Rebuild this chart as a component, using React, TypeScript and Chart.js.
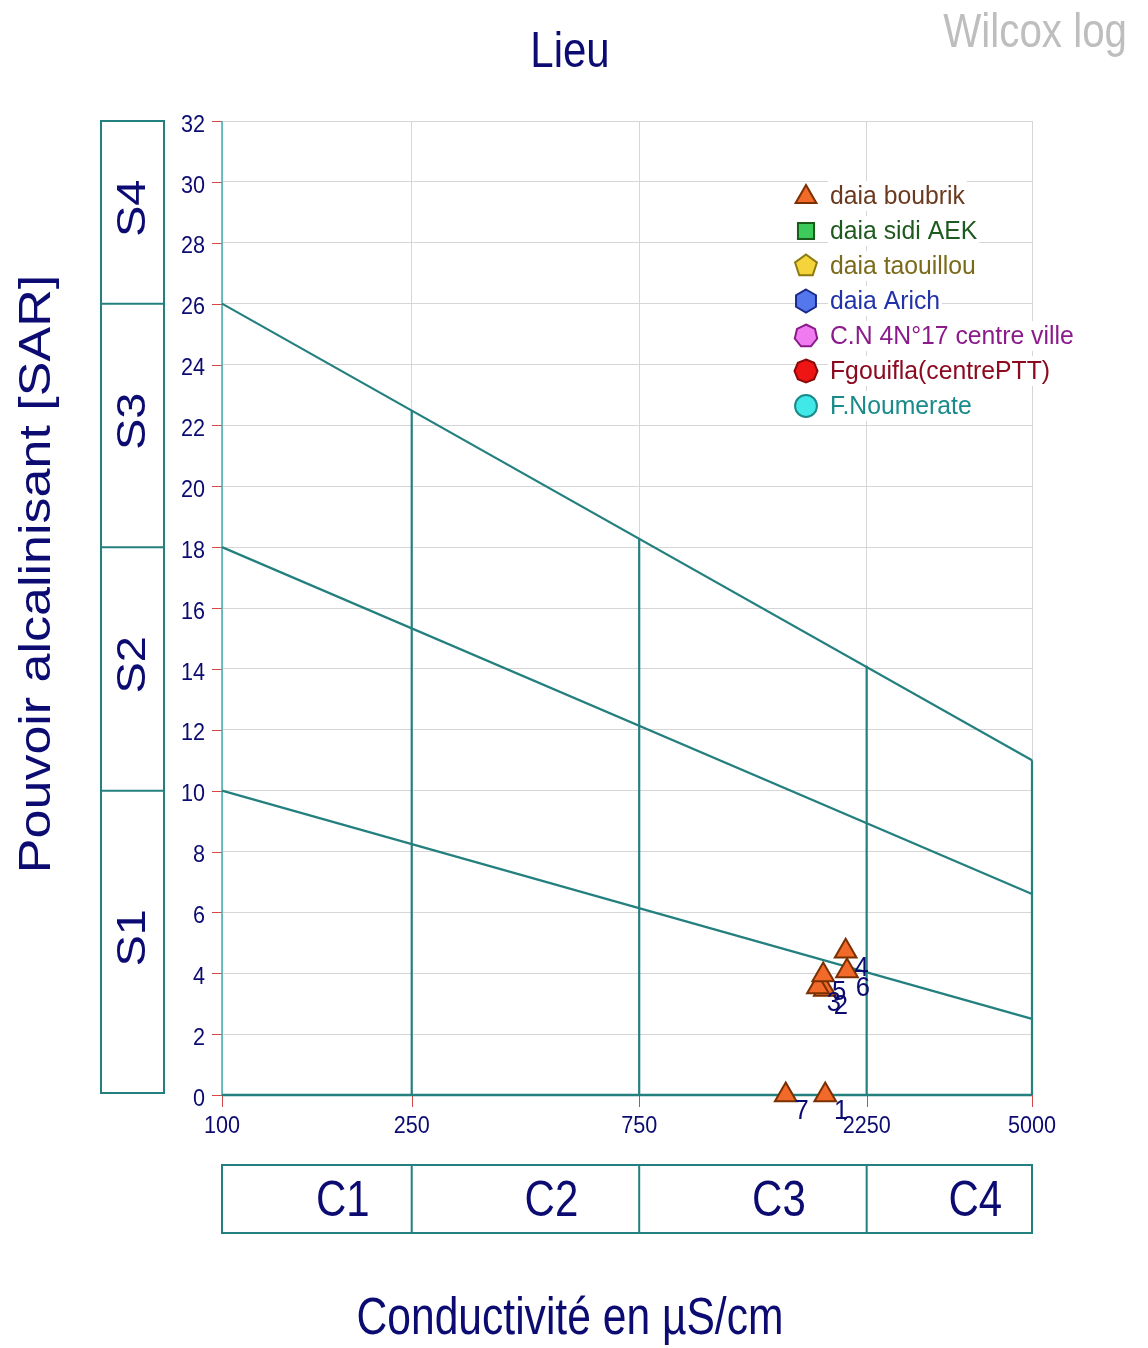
import React, { useEffect, useRef } from 'react';
import { Chart, registerables } from 'chart.js';

Chart.register(...registerables);

const FONT = "'Liberation Sans', Arial, sans-serif";
const NAVY = '#0B0B72';
const TEAL = '#23807F';

// ---- series (legend) ----
const seriesNames = ['daia boubrik', 'daia sidi AEK', 'daia taouillou', 'daia Arich', 'C.N 4N°17 centre ville', 'Fgouifla(centrePTT)', 'F.Noumerate'];
const seriesFill = ['#F26A2A', '#3CCB5A', '#F5D33A', '#5577EE', '#F07AF0', '#F01515', '#40E8E8'];
const seriesStroke = ['#7A3000', '#1A5A1A', '#8A7A10', '#1A2A8A', '#8A1A8A', '#8A0A0A', '#1A8A8A'];
const seriesText = ['#6B3A1E', '#1E5A1E', '#7A6A1A', '#2233AA', '#8B1A8B', '#8B0A20', '#1A8A8A'];
const seriesSides = [3, 4, 5, 6, 7, 8, 0];

// ---- samples (daia boubrik) ----
const sampleIds = ['1', '2', '3', '4', '5', '6', '7'];
const sampleCond = [1842, 1838, 1778, 2033, 1824, 2046, 1522];
const sampleSar = [0, 3.47, 3.55, 4.72, 3.94, 4.07, 0];

// ---- axes ----
const xTicks = [100, 250, 750, 2250, 5000];
const yTicks = [0, 2, 4, 6, 8, 10, 12, 14, 16, 18, 20, 22, 24, 26, 28, 30, 32];

// ---- classes ----
const sLabels = ['S1', 'S2', 'S3', 'S4'];
const sBounds = [0, 10, 18, 26, 32];
const cLabels = ['C1', 'C2', 'C3', 'C4'];
const cBounds = [100, 250, 750, 2250, 5000];

// ---- boundary lines ----
const lineS1S2 = [{ x: 100, y: 10 }, { x: 5000, y: 2.5 }];
const lineS2S3 = [{ x: 100, y: 18 }, { x: 5000, y: 6.6 }];
const lineS3S4 = [{ x: 100, y: 26 }, { x: 5000, y: 11 }];
const vert250 = [{ x: 250, y: 0 }, { x: 250, y: 22.5 }];
const vert750 = [{ x: 750, y: 0 }, { x: 750, y: 18.3 }];
const vert2250 = [{ x: 2250, y: 0 }, { x: 2250, y: 14.1 }];
const vert5000 = [{ x: 5000, y: 0 }, { x: 5000, y: 11 }];

function drawText(ctx: CanvasRenderingContext2D, text: string, x: number, y: number, size: number, color: string, align: CanvasTextAlign, sx: number, rotate = false) {
  ctx.save();
  ctx.translate(x, y);
  if (rotate) {
    ctx.rotate(-Math.PI / 2);
    ctx.scale(1, sx);
  } else {
    ctx.scale(sx, 1);
  }
  ctx.font = `${size}px ${FONT}`;
  ctx.fillStyle = color;
  ctx.textAlign = align;
  ctx.textBaseline = 'middle';
  ctx.fillText(text, 0, 0);
  ctx.restore();
}

function drawMarker(ctx: CanvasRenderingContext2D, sides: number, cx: number, cy: number, r: number, fill: string, stroke: string) {
  ctx.save();
  ctx.beginPath();
  if (sides === 0) {
    ctx.arc(cx, cy, r * 0.95, 0, Math.PI * 2);
  } else if (sides === 4) {
    ctx.rect(cx - r * 0.7, cy - r * 0.7, r * 1.4, r * 1.4);
  } else {
    for (let i = 0; i < sides; i++) {
      const a = -Math.PI / 2 + (i * 2 * Math.PI) / sides;
      const px = cx + r * Math.cos(a);
      const py = cy + r * Math.sin(a);
      if (i === 0) ctx.moveTo(px, py);
      else ctx.lineTo(px, py);
    }
    ctx.closePath();
  }
  ctx.fillStyle = fill;
  ctx.fill();
  ctx.strokeStyle = stroke;
  ctx.lineWidth = 2;
  ctx.stroke();
  ctx.restore();
}

const wilcoxPlugin = {
  id: 'wilcox',
  beforeDatasetsDraw(chart: any) {
    const { ctx, chartArea, scales } = chart;
    const xs = scales.x;
    const ys = scales.y;
    ctx.save();
    // red tick marks
    ctx.strokeStyle = '#D04848';
    ctx.lineWidth = 1;
    ctx.beginPath();
    yTicks.forEach((v) => {
      const py = Math.round(ys.getPixelForValue(v)) + 0.5;
      ctx.moveTo(chartArea.left - 10, py);
      ctx.lineTo(chartArea.left, py);
    });
    xTicks.forEach((v) => {
      const px = Math.round(xs.getPixelForValue(v)) + 0.5;
      ctx.moveTo(px, chartArea.bottom);
      ctx.lineTo(px, chartArea.bottom + 12);
    });
    ctx.stroke();
    // left axis line
    ctx.strokeStyle = '#3AAFAF';
    ctx.lineWidth = 1.5;
    ctx.beginPath();
    ctx.moveTo(chartArea.left, chartArea.top);
    ctx.lineTo(chartArea.left, chartArea.bottom);
    ctx.stroke();
    // bottom axis line
    ctx.strokeStyle = TEAL;
    ctx.lineWidth = 2.5;
    ctx.beginPath();
    ctx.moveTo(chartArea.left, chartArea.bottom);
    ctx.lineTo(chartArea.right, chartArea.bottom);
    ctx.stroke();
    ctx.restore();
  },
  afterDraw(chart: any) {
    const { ctx, chartArea, scales } = chart;
    const xs = scales.x;
    const ys = scales.y;

    // titles
    drawText(ctx, 'Lieu', 570, 53, 50, NAVY, 'center', 0.84);
    drawText(ctx, 'Wilcox log', 1127, 34, 48, '#BEBEBE', 'right', 0.84);
    drawText(ctx, 'Conductivité en µS/cm', 570, 1320, 51, NAVY, 'center', 0.835);
    drawText(ctx, 'Pouvoir alcalinisant [SAR]', 38, 574, 52, NAVY, 'center', 0.85, true);

    // tick labels
    yTicks.forEach((v) => {
      drawText(ctx, String(v), chartArea.left - 17, ys.getPixelForValue(v) + 4, 24, NAVY, 'right', 0.9);
    });
    xTicks.forEach((v) => {
      drawText(ctx, String(v), xs.getPixelForValue(v), chartArea.bottom + 31, 24, NAVY, 'center', 0.9);
    });

    // S class box
    ctx.save();
    ctx.strokeStyle = TEAL;
    ctx.lineWidth = 2;
    const sLeft = 101;
    const sRight = 164;
    const sTop = ys.getPixelForValue(sBounds[sBounds.length - 1]);
    const sBottom = ys.getPixelForValue(sBounds[0]) - 2;
    ctx.strokeRect(sLeft, sTop, sRight - sLeft, sBottom - sTop);
    ctx.beginPath();
    for (let i = 1; i < sBounds.length - 1; i++) {
      const py = ys.getPixelForValue(sBounds[i]);
      ctx.moveTo(sLeft, py);
      ctx.lineTo(sRight, py);
    }
    ctx.stroke();
    ctx.restore();
    sLabels.forEach((lab, i) => {
      const py = (Math.min(ys.getPixelForValue(sBounds[i]), sBottom) + ys.getPixelForValue(sBounds[i + 1])) / 2 - 4;
      drawText(ctx, lab, 134, py, 47, NAVY, 'center', 0.85, true);
    });

    // C class box
    ctx.save();
    ctx.strokeStyle = TEAL;
    ctx.lineWidth = 2;
    const cTop = 1165;
    const cBottom = 1233;
    const cLeft = xs.getPixelForValue(cBounds[0]);
    const cRight = xs.getPixelForValue(cBounds[cBounds.length - 1]);
    ctx.strokeRect(cLeft, cTop, cRight - cLeft, cBottom - cTop);
    ctx.beginPath();
    for (let i = 1; i < cBounds.length - 1; i++) {
      const px = xs.getPixelForValue(cBounds[i]);
      ctx.moveTo(px, cTop);
      ctx.lineTo(px, cBottom);
    }
    ctx.stroke();
    ctx.restore();
    cLabels.forEach((lab, i) => {
      const px = (xs.getPixelForValue(cBounds[i]) + xs.getPixelForValue(cBounds[i + 1])) / 2 + 26;
      drawText(ctx, lab, px, (cTop + cBottom) / 2 + 3, 50, NAVY, 'center', 0.84);
    });

    // point labels
    const meta = chart.getDatasetMeta(0);
    meta.data.forEach((el: any, i: number) => {
      drawText(ctx, sampleIds[i], el.x + 16, el.y + 17, 27, NAVY, 'center', 0.95);
    });

    // legend
    const lx = 806;
    const tx = 830;
    seriesNames.forEach((name, i) => {
      const cy = 196 + i * 35;
      ctx.save();
      ctx.font = `25px ${FONT}`;
      const w = ctx.measureText(name).width * 0.99;
      ctx.fillStyle = '#FFFFFF';
      ctx.fillRect(tx - 2, cy - 15, w + 4, 30);
      ctx.restore();
      drawMarker(ctx, seriesSides[i], lx, seriesSides[i] === 3 ? cy + 1 : cy, seriesSides[i] === 3 ? 12 : 11.5, seriesFill[i], seriesStroke[i]);
      drawText(ctx, name, tx, cy + 1, 25, seriesText[i], 'left', 0.99);
    });
  },
};

export default function App() {
  const ref = useRef<HTMLCanvasElement | null>(null);
  useEffect(() => {
    const canvas = ref.current;
    if (!canvas) return;
    const lineDs = (data: any[]) => ({
      label: '',
      data,
      showLine: true,
      borderColor: TEAL,
      borderWidth: 2.2,
      pointRadius: 0,
      fill: false,
      order: 10,
      clip: false as any,
    });
    const datasets: any[] = [
      {
        label: seriesNames[0],
        data: sampleCond.map((c, i) => ({ x: c, y: sampleSar[i] })),
        pointStyle: 'triangle',
        pointRadius: 12.5,
        backgroundColor: seriesFill[0],
        borderColor: seriesStroke[0],
        borderWidth: 2,
        showLine: false,
        order: 0,
        clip: false,
      },
    ];
    for (let i = 1; i < seriesNames.length; i++) {
      datasets.push({ label: seriesNames[i], data: [], backgroundColor: seriesFill[i], borderColor: seriesStroke[i], order: 1 });
    }
    [lineS1S2, lineS2S3, lineS3S4, vert250, vert750, vert2250, vert5000].forEach((d) => datasets.push(lineDs(d)));

    const chart = new Chart(canvas, {
      type: 'scatter',
      data: { datasets },
      options: {
        responsive: false,
        animation: false,
        devicePixelRatio: 1,
        layout: { padding: { left: 222, top: 121, right: 116, bottom: 253 } },
        plugins: { legend: { display: false }, tooltip: { enabled: false }, title: { display: false } },
        scales: {
          x: {
            type: 'logarithmic',
            min: 100,
            max: 5000,
            afterBuildTicks: (s: any) => {
              s.ticks = xTicks.map((v) => ({ value: v }));
            },
            afterFit: (s: any) => {
              s.height = 0;
            },
            ticks: { display: false },
            grid: { color: '#D6D6D6', lineWidth: 1, drawTicks: false },
            border: { display: false },
          },
          y: {
            type: 'linear',
            min: 0,
            max: 32,
            afterBuildTicks: (s: any) => {
              s.ticks = yTicks.map((v) => ({ value: v }));
            },
            afterFit: (s: any) => {
              s.width = 0;
            },
            ticks: { display: false },
            grid: { color: '#D6D6D6', lineWidth: 1, drawTicks: false },
            border: { display: false },
          },
        },
      } as any,
      plugins: [wilcoxPlugin],
    });
    return () => chart.destroy();
  }, []);
  return (
    <div style={{ position: 'fixed', left: 0, top: 0, width: 1148, height: 1348, background: '#FFFFFF' }}>
      <canvas ref={ref} width={1148} height={1348} style={{ width: 1148, height: 1348, display: 'block' }} />
    </div>
  );
}
